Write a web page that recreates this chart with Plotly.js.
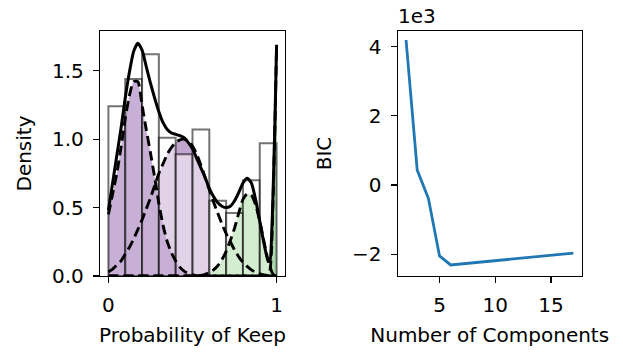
<!DOCTYPE html>
<html>
<head>
<meta charset="utf-8">
<script src="https://cdn.plot.ly/plotly-3.0.1.min.js"></script>
<style>html,body{margin:0;padding:0;background:#fff;}#chart{width:623px;height:352px;}</style>
</head>
<body>
<div id="chart"></div>
<script>
// ---- Left panel data: histogram of P(keep) ----
const binCenters = [0.05, 0.15, 0.25, 0.35, 0.45, 0.55, 0.65, 0.75, 0.85, 0.95];
const binDensity = [1.24, 1.44, 1.62, 1.01, 0.89, 1.07, 0.55, 0.46, 0.70, 0.97];

// ---- Left panel data: mixture densities ----
const gridX = [0, 0.025, 0.05, 0.075, 0.1, 0.125, 0.15, 0.175, 0.2, 0.225, 0.25, 0.275, 0.3, 0.325, 0.35, 0.375, 0.4, 0.425, 0.45, 0.475, 0.5, 0.525, 0.55, 0.575, 0.6, 0.625, 0.65, 0.675, 0.7, 0.725, 0.75, 0.775, 0.8, 0.825, 0.85, 0.875, 0.9, 0.925, 0.95, 0.96, 0.97, 0.98, 0.99, 1.0];
const comp1 = [0.45, 0.60, 0.75, 0.94, 1.15, 1.32, 1.42, 1.42, 1.25, 1.07, 0.90, 0.72, 0.53, 0.37, 0.25, 0.17, 0.11, 0.065, 0.035, 0.018, 0.008, 0.003, 0.001, 0, 0, 0, 0, 0, 0, 0, 0, 0, 0, 0, 0, 0, 0, 0, 0, 0, 0, 0, 0, 0];
const comp2 = [0.03, 0.05, 0.08, 0.11, 0.16, 0.21, 0.27, 0.34, 0.41, 0.49, 0.57, 0.66, 0.75, 0.82, 0.89, 0.94, 0.975, 0.995, 1.0, 0.985, 0.95, 0.89, 0.81, 0.72, 0.63, 0.54, 0.46, 0.38, 0.31, 0.25, 0.19, 0.14, 0.10, 0.07, 0.045, 0.028, 0.016, 0.008, 0.003, 0.002, 0.001, 0.0005, 0, 0];
const comp3 = [0, 0, 0, 0, 0, 0, 0, 0, 0, 0, 0, 0, 0, 0, 0, 0, 0, 0, 0, 0, 0, 0, 0.005, 0.012, 0.025, 0.045, 0.075, 0.12, 0.18, 0.26, 0.35, 0.46, 0.56, 0.60, 0.59, 0.52, 0.40, 0.25, 0.11, 0.07, 0.035, 0.012, 0.002, 0];
const comp4 = [0, 0, 0, 0, 0, 0, 0, 0, 0, 0, 0, 0, 0, 0, 0, 0, 0, 0, 0, 0, 0, 0, 0, 0, 0, 0, 0, 0, 0, 0, 0, 0, 0, 0, 0, 0, 0, 0, 0.005, 0.03, 0.2, 0.6, 1.1, 1.68];
const mixture = [0.48, 0.68, 0.88, 1.08, 1.30, 1.49, 1.64, 1.70, 1.65, 1.53, 1.41, 1.30, 1.20, 1.12, 1.07, 1.045, 1.035, 1.025, 1.01, 0.975, 0.93, 0.86, 0.79, 0.72, 0.64, 0.58, 0.535, 0.51, 0.50, 0.51, 0.55, 0.61, 0.68, 0.715, 0.68, 0.56, 0.40, 0.24, 0.11, 0.11, 0.28, 0.65, 1.12, 1.69];

// ---- Right panel data: BIC vs number of components ----
const nComponents = [2, 3, 4, 5, 6, 7, 8, 9, 10, 11, 12, 13, 14, 15, 16, 17];
const bic = [4190, 430, -385, -2050, -2310, -2280, -2250, -2220, -2190, -2160, -2120, -2090, -2060, -2030, -2000, -1970];

const bicTickVals = [-2000, 0, 2000, 4000];
const bicTickText = ['\u22122', '0', '2', '4'];

// ---- helpers ----
function slice(xs, ys, lo, hi) {
  const ox = [], oy = [];
  xs.forEach((x, i) => { if (x >= lo - 1e-9 && x <= hi + 1e-9) { ox.push(x); oy.push(ys[i]); } });
  return {x: ox, y: oy};
}
const fillSpec = [
  {ys: comp3, lo: 0.6, hi: 1.0, color: '#a6dba0'},
  {ys: comp4, lo: 0.95, hi: 1.0, color: '#5aae61'},
  {ys: comp2, lo: 0.0, hi: 0.6, color: '#c2a5cf'},
  {ys: comp1, lo: 0.0, hi: 0.55, color: '#8e5eaa'}
];
const traces = [];
fillSpec.forEach(f => {
  const s = slice(gridX, f.ys, f.lo, f.hi);
  traces.push({type: 'scatter', mode: 'lines', x: s.x, y: s.y, xaxis: 'x', yaxis: 'y',
    fill: 'tozeroy', fillcolor: f.color, line: {width: 0, shape: 'spline', smoothing: 0.6},
    hoverinfo: 'skip', showlegend: false});
});
traces.push({type: 'bar', x: binCenters, y: binDensity, width: 0.1, xaxis: 'x3', yaxis: 'y3',
  marker: {color: 'rgba(255,255,255,0.5)', line: {color: 'rgba(0,0,0,0.55)', width: 2}}, showlegend: false});
[comp1, comp2, comp3, comp4].forEach(c => {
  traces.push({type: 'scatter', mode: 'lines', x: gridX, y: c, xaxis: 'x3', yaxis: 'y3',
    line: {color: 'black', width: 2.9, dash: '10px,5px', shape: 'spline', smoothing: 0.6}, showlegend: false});
});
traces.push({type: 'scatter', mode: 'lines', x: gridX, y: mixture, xaxis: 'x3', yaxis: 'y3',
  line: {color: 'black', width: 3, shape: 'spline', smoothing: 0.6}, showlegend: false});
traces.push({type: 'scatter', mode: 'lines', x: nComponents, y: bic, xaxis: 'x2', yaxis: 'y2',
  line: {color: '#1f77b4', width: 2.8}, showlegend: false});

const W = 623, H = 352;
const font = {family: 'DejaVu Sans', size: 20, color: 'black'};
const axBase = {showline: true, mirror: true, linecolor: 'black', linewidth: 1.2, ticks: 'outside',
  ticklen: 6, tickwidth: 1.2, tickcolor: 'black', showgrid: false, zeroline: false,
  tickfont: font, ticklabelstandoff: 5};
const leftX = [100 / W, 285 / W], rightX = [397.7 / W, 581.7 / W];
const yDom = [1 - 276 / H, 1 - 31 / H];
const xr = [-0.05, 1.05], yr = [0, 1.79];

const layout = {
  width: W, height: H, margin: {l: 0, r: 0, t: 0, b: 0},
  paper_bgcolor: 'white', plot_bgcolor: 'rgba(0,0,0,0)', font: font, showlegend: false,
  barmode: 'overlay',
  xaxis: Object.assign({}, axBase, {domain: leftX, anchor: 'y', range: xr, tickvals: [0, 1], ticktext: ['0', '1'],
    title: {text: 'Probability of Keep', font: font, standoff: 11}}),
  yaxis: Object.assign({}, axBase, {domain: yDom, anchor: 'x', range: yr, tickvals: [0, 0.5, 1.0, 1.5], tickformat: '.1f',
    title: {text: 'Density', font: font, standoff: 15}}),
  xaxis3: {overlaying: 'x', anchor: 'y3', range: xr, visible: false, showgrid: false, zeroline: false},
  yaxis3: {overlaying: 'y', anchor: 'x3', range: yr, visible: false, showgrid: false, zeroline: false},
  xaxis2: Object.assign({}, axBase, {domain: rightX, anchor: 'y2', range: [1.25, 17.75], tickvals: [5, 10, 15],
    title: {text: 'Number of Components', font: font, standoff: 11}}),
  yaxis2: Object.assign({}, axBase, {domain: yDom, anchor: 'x2', range: [-2630, 4450], tickvals: bicTickVals, ticktext: bicTickText,
    title: {text: 'BIC', font: font, standoff: 15}}),
  annotations: [{text: '1e3', xref: 'paper', yref: 'paper', x: 396 / W, y: 1 - 16 / H,
    xanchor: 'left', yanchor: 'middle', showarrow: false, font: font}]
};
Plotly.newPlot('chart', traces, layout, {displayModeBar: false, staticPlot: true});
</script>
</body>
</html>
